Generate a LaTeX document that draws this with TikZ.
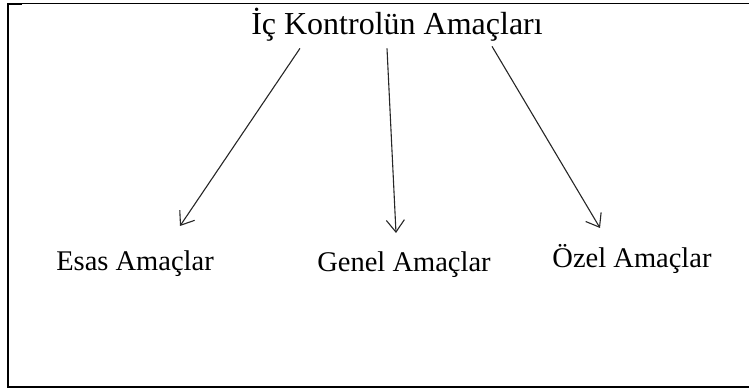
\documentclass[tikz,border=0pt]{standalone}
\usepackage{fontspec}
\setmainfont{Liberation Serif}
\usepackage{tikz}
\usetikzlibrary{positioning,arrows.meta,calc}

\begin{document}
\begin{tikzpicture}[x=1pt,y=1pt,
    goal/.style={anchor=base, font=\fontsize{28.5}{32}\selectfont},
    goalarrow/.style={-{Straight Barb[length=12pt,width=18pt]}, line width=1.1pt, black!85}]
    \useasboundingbox (0,0) rectangle (749,390);
    \draw[line width=1.2pt] (8,386.5) -- (749,386.5);
    \draw[line width=2.2pt] (22,386) -- (8,386) -- (8,3) -- (749,3);
    \node[anchor=base, font=\fontsize{32}{36}\selectfont] (title) at (397,355) {İç Kontrolün Amaçları};
    \node[goal] (esas) at (135,119) {Esas Amaçlar};
    \node[goal] (genel) at (404,118) {Genel Amaçlar};
    \node[goal] (ozel) at (632,122) {Özel Amaçlar};
    \coordinate (esas-in) at (180,164);
    \coordinate (genel-in) at (396,157);
    \coordinate (ozel-in) at (600,162);
    \draw[goalarrow] (title.south -| 300,0) ++(0,-3) -- (esas-in);
    \draw[goalarrow] (title.south -| 387,0) ++(0,-3) -- (genel-in);
    \draw[goalarrow] (title.south -| 492,0) ++(0,-1) -- (ozel-in);
  \end{tikzpicture}
\end{document}
